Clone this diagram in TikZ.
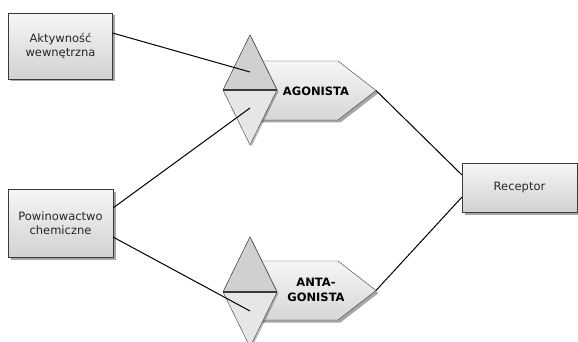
\documentclass[tikz,border=0pt]{standalone}
\usepackage{fontspec}
\setmainfont{DejaVu Sans}
\usetikzlibrary{shapes.geometric,shadows}
\definecolor{boxtop}{HTML}{F6F6F6}
\definecolor{boxbot}{HTML}{D2D2D2}
\definecolor{edgegray}{HTML}{3A3A3A}
\definecolor{halfdark}{HTML}{D0D0D0}
\definecolor{halflight}{HTML}{E6E6E6}

\begin{document}
\begin{tikzpicture}[x=1pt, y=-1pt,
  box node/.style={rectangle, draw=edgegray, top color=boxtop, bottom color=boxbot, font=\fontsize{11.5}{14.5}\selectfont, text=black!85, align=center, inner sep=0pt, outer sep=0pt, drop shadow={shadow xshift=2.5pt, shadow yshift=-2.5pt, fill=black, opacity=0.35}},
  arrow shape/.style={draw=edgegray, top color=boxtop, bottom color=boxbot!90, drop shadow={shadow xshift=2.5pt, shadow yshift=-2.5pt, fill=black, opacity=0.35}},
  arrow text/.style={font=\bfseries\fontsize{11.5}{14.5}\selectfont, align=center, inner sep=0pt},
  half node/.style={diamond, draw=edgegray, fill=halflight, minimum width=54pt, minimum height=110pt, inner sep=0pt, outer sep=0pt, drop shadow={shadow xshift=1.5pt, shadow yshift=-1.5pt, fill=black, opacity=0.25}},
  link/.style={-, black, line width=1pt}]

    \useasboundingbox (0,0) rectangle (578,342);

    % input boxes and receptor
    \node[box node, minimum width=104pt, minimum height=66pt] (aktyw) at (60.5,46) {Aktywność\\wewnętrzna};
    \node[box node, minimum width=105pt, minimum height=68pt] (powin) at (60.5,223) {Powinowactwo\\chemiczne};
    \node[box node, minimum width=115pt, minimum height=49pt] (recep) at (519.5,187.5) {Receptor};

    % draw the two arrows
    \path[arrow shape] (255,61) -- (338,61) -- (376,90.5) -- (338,120) -- (255,120) -- cycle;
    \coordinate (agtip) at (376,90.5);
    \node[arrow text] (agon) at (316,91) {AGONISTA};

    \path[arrow shape] (255,261) -- (338,261) -- (376,290.5) -- (338,320) -- (255,320) -- cycle;
    \coordinate (antip) at (376,290.5);
    \node[arrow text] (antag) at (316,290) {ANTA-\\GONISTA};

    % draw diamonds, upper half darker
    \node[half node] (agdiam) at (250,90) {};
    \filldraw[draw=edgegray, fill=halfdark] (agdiam.north) -- (agdiam.east) -- (agdiam.west) -- cycle;
    \draw[edgegray, line width=1.6pt] (agdiam.west) -- (agdiam.east);

    \node[half node] (antdiam) at (250,292) {};
    \filldraw[draw=edgegray, fill=halfdark] (antdiam.north) -- (antdiam.east) -- (antdiam.west) -- cycle;
    \draw[edgegray, line width=1.6pt] (antdiam.west) -- (antdiam.east);

    % draw links into the diamonds
    \draw[link] ([yshift=13pt]aktyw.east) -- ([yshift=18pt]agdiam.center);
    \draw[link] ([yshift=15pt]powin.east) -- ([yshift=-18pt]agdiam.center);
    \draw[link] ([yshift=-14pt]powin.east) -- ([yshift=-19pt]antdiam.center);

    % draw links to receptor
    \draw[link] (agtip) -- ([yshift=12.5pt]recep.west);
    \draw[link] (antip) -- ([yshift=-9.5pt]recep.west);

\end{tikzpicture}
\end{document}
